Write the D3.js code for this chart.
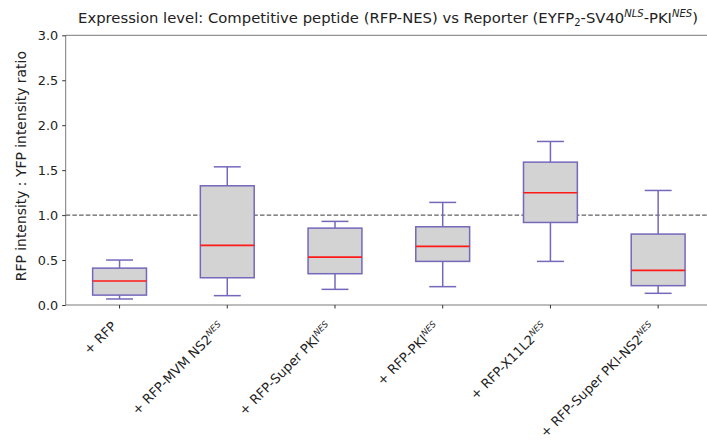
<!DOCTYPE html>
<html><head><meta charset="utf-8">
<script src="https://cdn.jsdelivr.net/npm/d3@7"></script>
<style>body{margin:0;background:#fff}text{font-family:"DejaVu Sans",sans-serif}</style>
</head><body><svg id="c" width="707" height="440"></svg>
<script>
const categories = ["+ RFP", "+ RFP-MVM NS2", "+ RFP-Super PKI", "+ RFP-PKI", "+ RFP-X11L2", "+ RFP-Super PKI-NS2"];
const categorySup = ["", "NES", "NES", "NES", "NES", "NES"];
const whiskerLow = [0.067, 0.104, 0.174, 0.204, 0.485, 0.13];
const q1 = [0.11, 0.303, 0.348, 0.485, 0.918, 0.215];
const median = [0.267, 0.663, 0.533, 0.652, 1.248, 0.385];
const q3 = [0.41, 1.326, 0.855, 0.87, 1.589, 0.789];
const whiskerHigh = [0.5, 1.537, 0.93, 1.141, 1.819, 1.274];
const yTicks = [0, 0.5, 1.0, 1.5, 2.0, 2.5, 3.0];
const refLine = 1.0;

const svg = d3.select("#c");
const mL = 65.7, mR = 712, mT = 35.3, mB = 305;
const x = d3.scaleLinear().domain([0.5, categories.length + 0.5]).range([mL, mR]);
const y = d3.scaleLinear().domain([0, 3]).range([mB, mT]);
const data = categories.map((c, i) => ({c, sup: categorySup[i], pos: i + 1, lo: whiskerLow[i], q1: q1[i], med: median[i], q3: q3[i], hi: whiskerHigh[i]}));
const spine = "#7a7a7a", edge = "#7468bb";

// dashed reference line
svg.append("line").attr("x1", mL).attr("x2", mR).attr("y1", y(refLine)).attr("y2", y(refLine))
  .attr("stroke", "#606060").attr("stroke-width", 1.3).attr("stroke-dasharray", "4.5,2.2");

const bw = x(1.25) - x(1), cw = x(1.125) - x(1);
const g = svg.append("g").selectAll("g").data(data).join("g");
g.append("line").attr("x1", d => x(d.pos)).attr("x2", d => x(d.pos)).attr("y1", d => y(d.hi)).attr("y2", d => y(d.q3)).attr("stroke", edge).attr("stroke-width", 1.5);
g.append("line").attr("x1", d => x(d.pos)).attr("x2", d => x(d.pos)).attr("y1", d => y(d.q1)).attr("y2", d => y(d.lo)).attr("stroke", edge).attr("stroke-width", 1.5);
g.append("line").attr("x1", d => x(d.pos) - cw).attr("x2", d => x(d.pos) + cw).attr("y1", d => y(d.hi)).attr("y2", d => y(d.hi)).attr("stroke", edge).attr("stroke-width", 1.5);
g.append("line").attr("x1", d => x(d.pos) - cw).attr("x2", d => x(d.pos) + cw).attr("y1", d => y(d.lo)).attr("y2", d => y(d.lo)).attr("stroke", edge).attr("stroke-width", 1.5);
g.append("rect").attr("x", d => x(d.pos) - bw).attr("width", 2 * bw).attr("y", d => y(d.q3)).attr("height", d => y(d.q1) - y(d.q3))
  .attr("fill", "#d3d3d3").attr("stroke", edge).attr("stroke-width", 1.5);
g.append("line").attr("x1", d => x(d.pos) - bw).attr("x2", d => x(d.pos) + bw).attr("y1", d => y(d.med)).attr("y2", d => y(d.med)).attr("stroke", "#ff1a1a").attr("stroke-width", 1.6);

// spines
svg.append("line").attr("x1", mL).attr("x2", mR).attr("y1", mT).attr("y2", mT).attr("stroke", spine);
svg.append("line").attr("x1", mL).attr("x2", mR).attr("y1", mB).attr("y2", mB).attr("stroke", spine);
svg.append("line").attr("x1", mL).attr("x2", mL).attr("y1", mT).attr("y2", mB).attr("stroke", spine);

// y axis
const ya = svg.append("g").attr("transform", `translate(${mL},0)`)
  .call(d3.axisLeft(y).tickValues(yTicks).tickFormat(d3.format(".1f")).tickSize(3.5).tickPadding(4));
ya.select(".domain").remove();
ya.selectAll("line").attr("stroke", "#333");
ya.selectAll("text").attr("font-size", 12.8).attr("fill", "#222").attr("font-family", "DejaVu Sans");

// x ticks
const xa = svg.append("g");
xa.selectAll("line").data(data).join("line").attr("x1", d => x(d.pos)).attr("x2", d => x(d.pos)).attr("y1", mB).attr("y2", mB + 3.5).attr("stroke", "#333");
const xl = xa.selectAll("text").data(data).join("text")
  .attr("text-anchor", "end").attr("font-size", 13.1).attr("fill", "#222");
xl.append("tspan").text(d => d.c);
xl.filter(d => d.sup).append("tspan").attr("font-size", 8.6).attr("font-style", "italic").attr("dy", -5).text(d => d.sup);
// place rotated label so its rotated bounding box top-right sits under the tick (matplotlib ha='right')
const s45 = Math.SQRT1_2;
xl.each(function(d) {
  const b = this.getBBox();
  const cx = s45 * (b.x + b.width) + s45 * (b.y + b.height);
  const cy = Math.min(-s45 * b.x + s45 * b.y, -s45 * (b.x + b.width) + s45 * b.y);
  d3.select(this).attr("transform", `translate(${x(d.pos) - cx},${mB + 13.5 - cy}) rotate(-45)`);
});

// title
const t = svg.append("text").attr("x", 388).attr("y", 22.5).attr("text-anchor", "middle").attr("font-size", 14.8).attr("fill", "#222");
t.append("tspan").text("Expression level: Competitive peptide (RFP-NES) vs Reporter (EYFP");
t.append("tspan").attr("font-size", 10).attr("dy", 3.5).text("2");
t.append("tspan").attr("dy", -3.5).text("-SV40");
t.append("tspan").attr("font-size", 10).attr("font-style", "italic").attr("dy", -6).text("NLS");
t.append("tspan").attr("dy", 6).text("-PKI");
t.append("tspan").attr("font-size", 10).attr("font-style", "italic").attr("dy", -6).text("NES");
t.append("tspan").attr("dy", 6).text(")");

// y label
svg.append("text").attr("transform", `translate(26,${(mT + mB) / 2 - 4}) rotate(-90)`).attr("text-anchor", "middle")
  .attr("font-size", 13.9).attr("fill", "#222").text("RFP intensity : YFP intensity ratio");
</script></body></html>
